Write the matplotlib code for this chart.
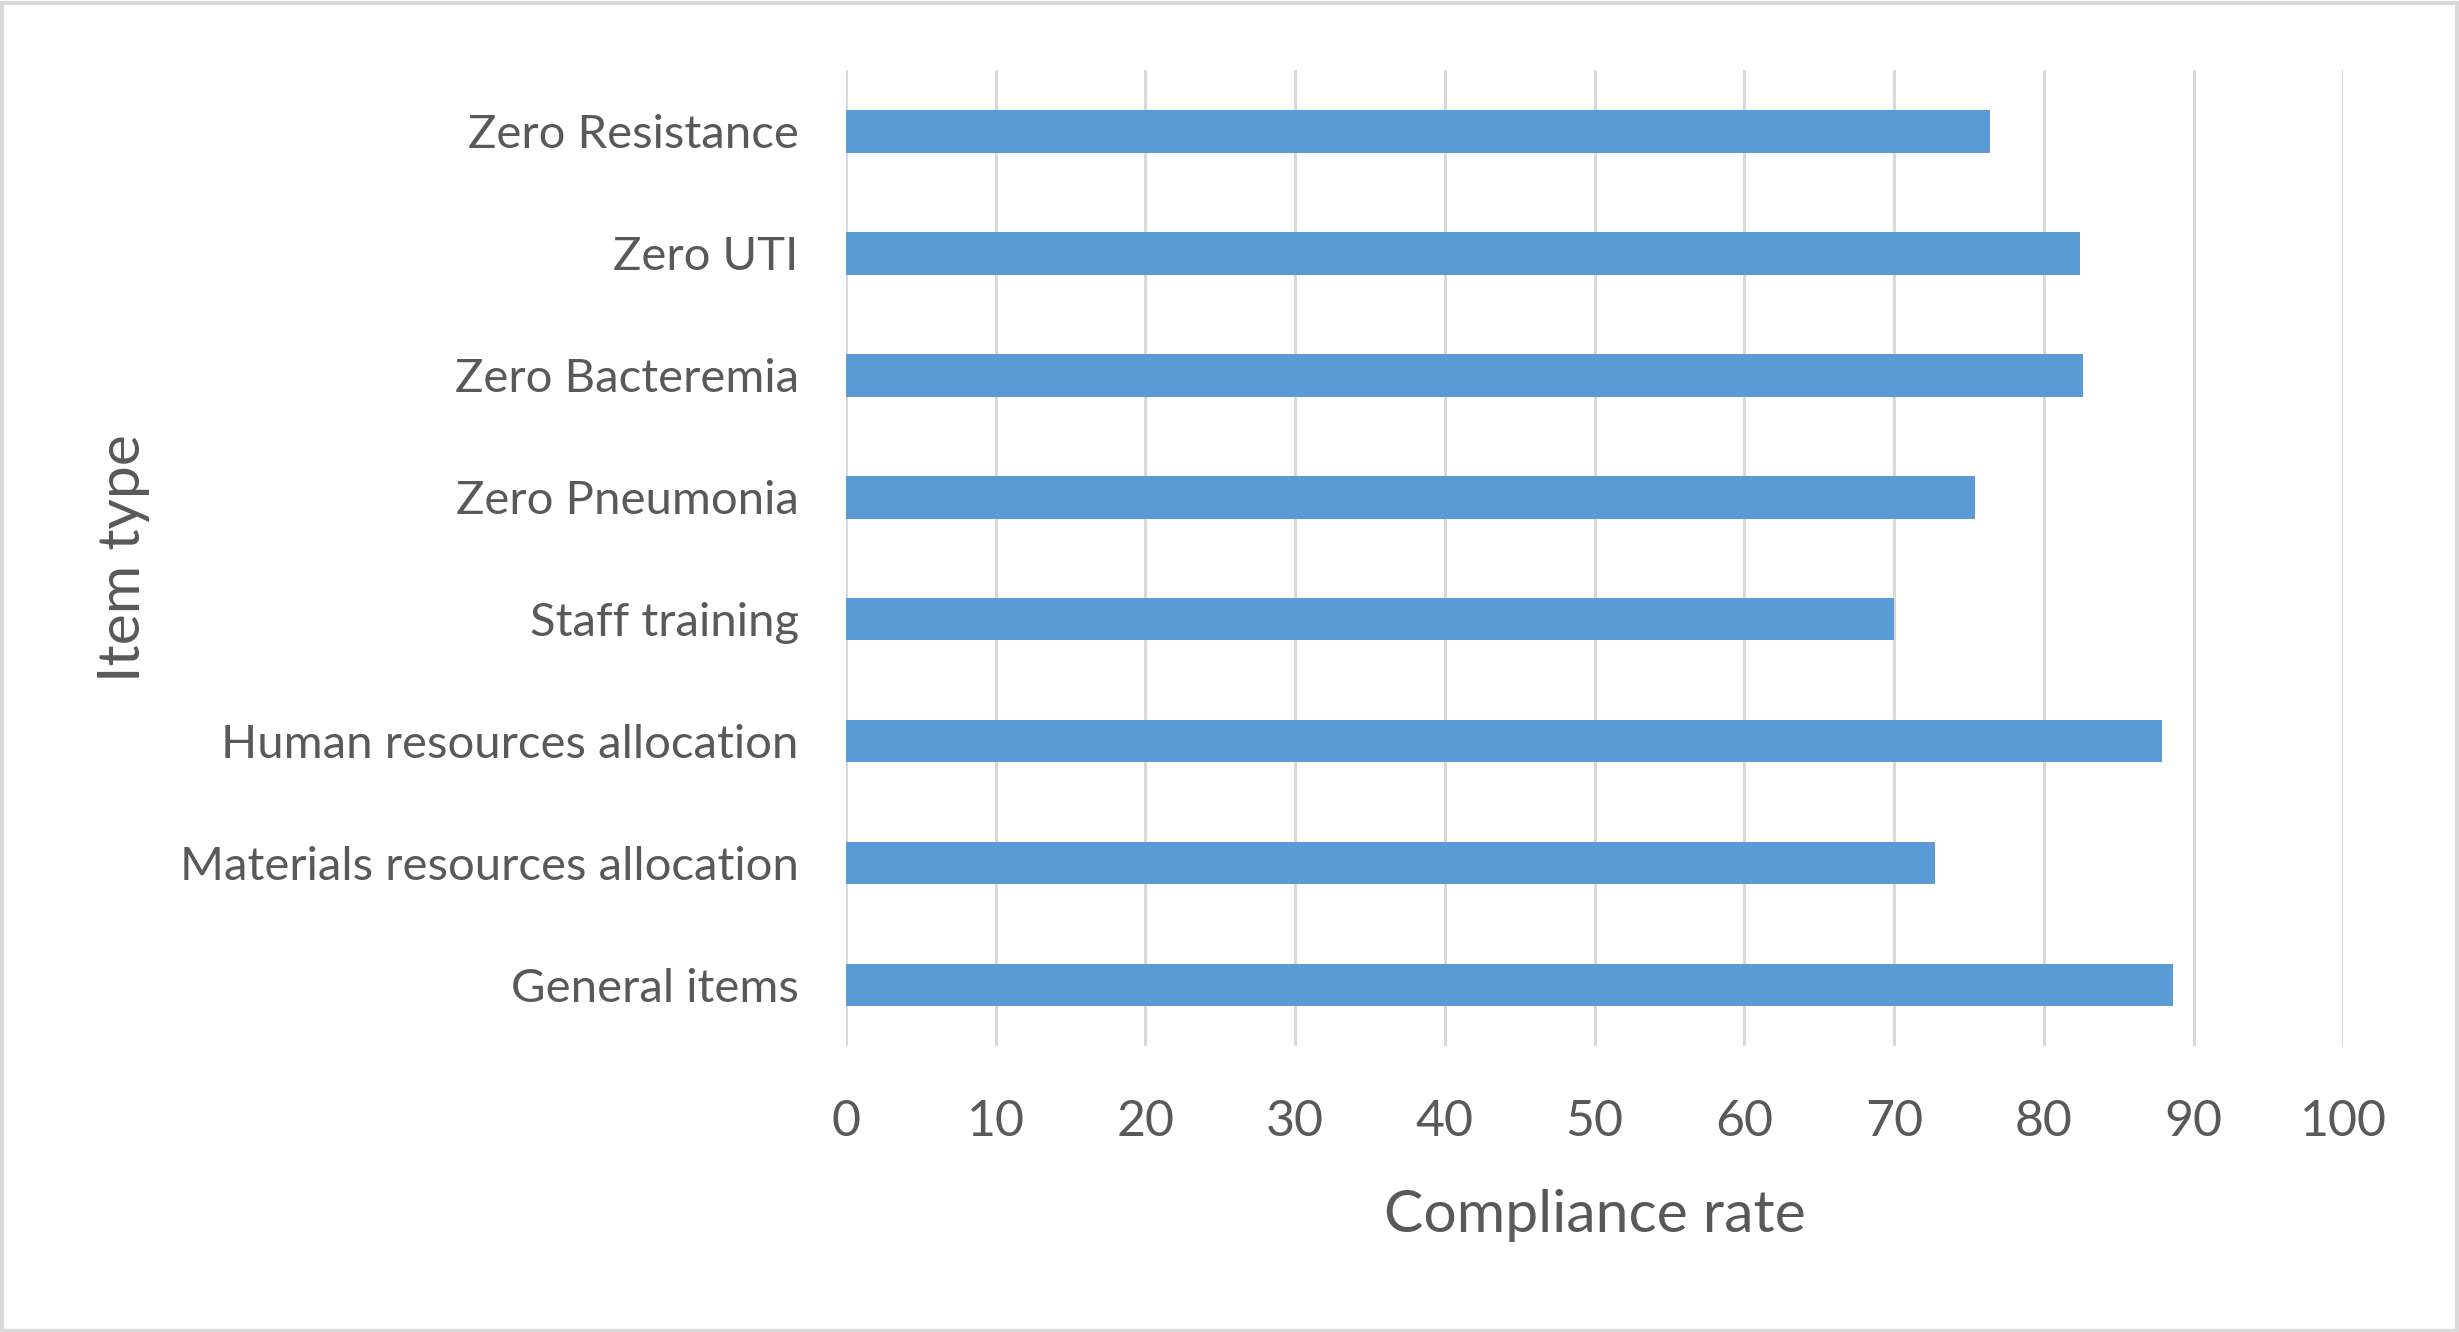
import matplotlib
matplotlib.use("Agg")
import matplotlib.pyplot as plt
from matplotlib.patches import Rectangle

categories = ["General items", "Materials resources allocation", "Human resources allocation",
              "Staff training", "Zero Pneumonia", "Zero Bacteremia", "Zero UTI", "Zero Resistance"]
values = [88.6, 72.7, 87.9, 70.0, 75.4, 82.6, 82.4, 76.4]
xticks = [0, 10, 20, 30, 40, 50, 60, 70, 80, 90, 100]

plt.rcParams['font.family'] = ['Lato', 'DejaVu Sans']
text_color = "#595959"
grid_color = "#D9D9D9"
bar_color = "#5B9BD5"

fig = plt.figure(figsize=(12.295, 6.66), dpi=200)
ax = fig.add_axes([0.344, 0.2147, 0.609, 0.7325])

ypos = list(range(len(categories)))
ax.barh(ypos, values, height=0.35, color=bar_color, zorder=3)
ax.set_ylim(-0.5, len(categories) - 0.5)
ax.set_xlim(0, 100)
ax.set_xticks(xticks)
ax.set_xticklabels([str(t) for t in xticks])
ax.set_yticks(ypos)
ax.set_yticklabels(categories)

ax.grid(axis='x', color=grid_color, linewidth=1.1, zorder=0)
ax.grid(axis='y', visible=False)
for s in ax.spines.values():
    s.set_visible(False)
ax.tick_params(axis='x', length=0, pad=19, labelsize=18, labelcolor=text_color)
ax.tick_params(axis='y', length=0, pad=17, labelsize=17, labelcolor=text_color)

ax.set_xlabel("Compliance rate", fontsize=21.2, color=text_color)
ax.set_ylabel("Item type", fontsize=21.2, color=text_color)
ax.yaxis.set_label_coords(-0.465, 0.5)
ax.xaxis.set_label_coords(0.5, -0.1465)

fig.patches.append(Rectangle((0.001, 0.001), 0.998, 0.997, transform=fig.transFigure,
                             fill=False, edgecolor=grid_color, linewidth=1.5))

fig.savefig("out.png", dpi=200, facecolor="white")
